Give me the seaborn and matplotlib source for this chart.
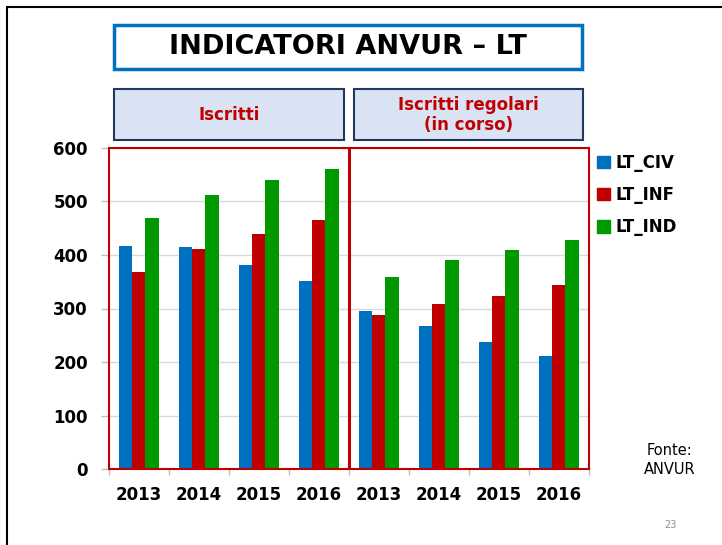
import pandas as pd
import matplotlib.pyplot as plt
import seaborn as sns
from matplotlib.patches import Rectangle
from matplotlib.lines import Line2D

# data
years = ["2013", "2014", "2015", "2016"]
series = ["LT_CIV", "LT_INF", "LT_IND"]
iscritti_civ = [416, 415, 382, 351]
iscritti_inf = [369, 411, 439, 466]
iscritti_ind = [468, 512, 539, 560]
regolari_civ = [296, 267, 237, 211]
regolari_inf = [288, 308, 323, 343]
regolari_ind = [359, 391, 409, 427]
colors = ["#0070c0", "#c00000", "#009900"]

groups = {
    "Iscritti": [iscritti_civ, iscritti_inf, iscritti_ind],
    "Regolari": [regolari_civ, regolari_inf, regolari_ind],
}
rows = []
for g, vals in groups.items():
    for i, y in enumerate(years):
        for s, v in zip(series, vals):
            rows.append({"cat": f"{g} {y}", "serie": s, "valore": v[i]})
df = pd.DataFrame(rows)
order = df["cat"].unique().tolist()

W, H = 722, 545
sns.set_theme(style="white")
plt.rcParams["font.family"] = ["DejaVu Sans"]
plt.rcParams["text.color"] = "black"

fig = plt.figure(figsize=(W / 100, H / 100), dpi=100)


def fx(px):
    return px / W


def fy(py):
    return 1 - py / H


ax = fig.add_axes([fx(108.7), fy(469.3), fx(588.7) - fx(108.7), fy(147.7) - fy(469.3)])
sns.barplot(data=df, x="cat", y="valore", hue="serie", order=order, hue_order=series,
            palette=colors, width=0.667, linewidth=0, saturation=1, legend=False, ax=ax)

ax.set_ylim(0, 600)
ax.set_xlim(-0.5, 7.5)
ax.set_yticks(range(0, 601, 100))
ax.yaxis.grid(True, color="#d9d9d9", lw=1)
ax.set_axisbelow(True)
ax.set_xlabel("")
ax.set_ylabel("")
ax.set_xticks(range(8))
ax.set_xticklabels(years + years, fontsize=12, fontweight="bold")
ax.set_xticks([i - 0.5 for i in range(9)], minor=True)
ax.tick_params(axis="x", which="major", bottom=True, length=0, pad=12)
ax.tick_params(axis="x", which="minor", bottom=True, length=4, color="#bfbfbf", width=1,
               direction="out")
ax.tick_params(axis="y", left=True, length=6, color="#bfbfbf", width=1, direction="out",
               pad=9, labelsize=12)
for lab in ax.get_yticklabels():
    lab.set_fontweight("bold")
ax.tick_params(axis="both", labelcolor="black")
for side in ax.spines:
    ax.spines[side].set_visible(False)

# red frame and divider
ax.add_patch(Rectangle((0, 0), 1, 1, transform=ax.transAxes, fill=False,
                       edgecolor="#c00000", lw=1.5, clip_on=False, zorder=5))
ax.axvline(3.5, color="#c00000", lw=2.2, zorder=5)

# legend
handles = [Rectangle((0, 0), 1, 1, color=c) for c in colors]
fig.legend(handles, series, loc="upper left", bbox_to_anchor=(fx(597), fy(154)),
           frameon=False, handlelength=0.75, handleheight=0.75, handletextpad=0.35,
           labelspacing=0.85, borderpad=0, borderaxespad=0,
           prop={"size": 12, "weight": "bold"})

# slide frame
fig.add_artist(Line2D([fx(7), fx(7)], [0, fy(7)], color="black", lw=1.5))
fig.add_artist(Line2D([fx(7), 1], [fy(7), fy(7)], color="black", lw=1.5))

# title box
fig.add_artist(Rectangle((fx(114), fy(69)), fx(582) - fx(114), fy(25) - fy(69),
                         transform=fig.transFigure, facecolor="white",
                         edgecolor="#0070c0", lw=2.5))
fig.text(fx(348), fy(47), "INDICATORI ANVUR – LT", ha="center", va="center",
         fontsize=19.5, fontweight="bold")

# section boxes
for x0, x1, txt in [(114, 344, "Iscritti"), (354, 583, "Iscritti regolari\n(in corso)")]:
    fig.add_artist(Rectangle((fx(x0), fy(140)), fx(x1) - fx(x0), fy(89) - fy(140),
                             transform=fig.transFigure, facecolor="#dae3f3",
                             edgecolor="#1f3864", lw=1.5))
    fig.text(fx((x0 + x1) / 2), fy(115), txt, ha="center", va="center",
             fontsize=12, fontweight="bold", color="#c00000", linespacing=1.2)

fig.text(fx(670), fy(460), "Fonte:\nANVUR", ha="center", va="center", fontsize=10.5,
         linespacing=1.3)
fig.text(fx(670), fy(525), "23", ha="center", va="center", fontsize=7, color="#8c8c8c")

fig.savefig("out.png", dpi=100)
